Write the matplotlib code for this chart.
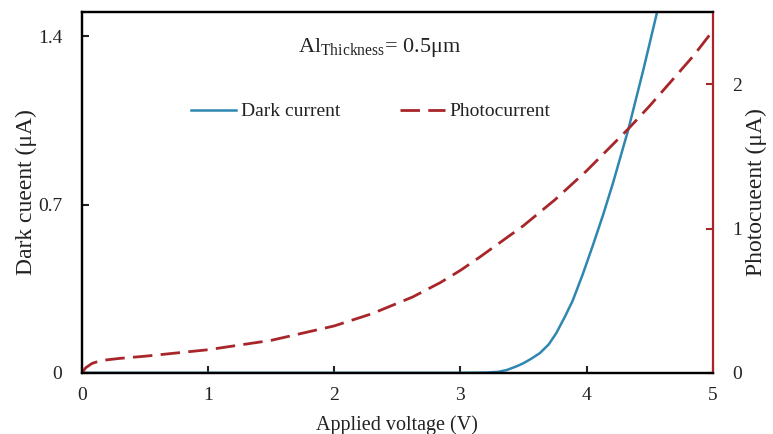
import matplotlib
matplotlib.use("Agg")
import matplotlib.pyplot as plt

# Data
dark_v = [0.0, 1.0, 2.0, 3.0, 3.2, 3.3, 3.37, 3.45, 3.5, 3.56, 3.63, 3.7, 3.76, 3.83, 3.89, 3.97, 4.05, 4.13, 4.21, 4.27, 4.33, 4.39, 4.45, 4.5, 4.55, 4.58]
dark_i = [0.0, 0.0, 0.0, 0.0, 0.001, 0.004, 0.012, 0.028, 0.04, 0.058, 0.082, 0.118, 0.165, 0.235, 0.30, 0.41, 0.53, 0.655, 0.79, 0.90, 1.01, 1.135, 1.26, 1.37, 1.48, 1.55]

photo_v = [0.0, 0.03, 0.08, 0.15, 0.3, 0.5, 1.0, 1.5, 2.0, 2.3, 2.62, 2.84, 3.0, 3.15, 3.5, 3.75, 4.0, 4.33, 4.5, 4.7, 4.85, 5.0]
photo_i = [0.0, 0.035, 0.065, 0.085, 0.10, 0.115, 0.16, 0.225, 0.325, 0.41, 0.525, 0.625, 0.71, 0.80, 1.02, 1.20, 1.40, 1.69, 1.85, 2.05, 2.20, 2.37]

x_ticks = [0, 1, 2, 3, 4, 5]
left_ticks = [0, 0.7, 1.4]
right_ticks = [0, 1, 2]

plt.rcParams['font.family'] = ['Liberation Serif', 'DejaVu Serif']
plt.rcParams['mathtext.fontset'] = 'custom'
plt.rcParams['mathtext.rm'] = 'Liberation Serif'

blue = '#2f86b0'
red = '#a8262a'
txt = '#222222'

fig = plt.figure(figsize=(7.73, 4.34), dpi=100)
ax = fig.add_axes([0.106, 0.141, 0.816, 0.831])
ax2 = ax.twinx()

l1, = ax.plot(dark_v, dark_i, color=blue, lw=1.8, label='Dark current')
l2, = ax2.plot(photo_v, photo_i, color=red, lw=2.0, dashes=(7, 3), label='Photocurrent')

ax.set_xlim(0, 5)
ax.set_ylim(0, 1.5)
ax2.set_ylim(0, 2.5)
ax.set_xticks(x_ticks)
ax.set_xticklabels([str(t) for t in x_ticks])
ax.set_yticks(left_ticks)
ax.set_yticklabels(['0', '0.7', '1.4'])
ax2.set_yticks(right_ticks)
ax2.set_yticklabels([str(t) for t in right_ticks])

for a in (ax, ax2):
    for s in a.spines.values():
        s.set_linewidth(1.6)
ax2.spines['right'].set_color(red)
ax.spines['right'].set_visible(False)

ax.tick_params(axis='both', direction='in', length=5, width=1.5, labelsize=14, colors=txt)
ax.tick_params(axis='y', pad=14)
ax.tick_params(axis='x', pad=10)
ax2.tick_params(axis='y', direction='in', length=5, width=1.5, labelsize=14, color=red, labelcolor=txt, pad=14)

ax.set_xlabel('Applied voltage (V)', fontsize=14.5, labelpad=8, color=txt)
ax.set_ylabel('Dark cueent (μA)', fontsize=17, color=txt)
ax2.set_ylabel('Photocueent (μA)', fontsize=17, color=txt)
ax.yaxis.set_label_coords(-0.071, 0.5)
ax2.yaxis.set_label_coords(1.052, 0.5)

ax.text(0.472, 0.903, r'Al$_{\mathrm{Thickness}}$= 0.5μm', transform=ax.transAxes,
        ha='center', va='center', fontsize=16, color=txt)

ax.legend([l1, l2], ['Dark current', 'Photocurrent'], loc='center', bbox_to_anchor=(0.458, 0.724),
          ncol=2, frameon=False, fontsize=14, handlelength=2.3, handletextpad=0.25, columnspacing=3.1,
          labelcolor=txt)

fig.savefig('out.png', dpi=100)
